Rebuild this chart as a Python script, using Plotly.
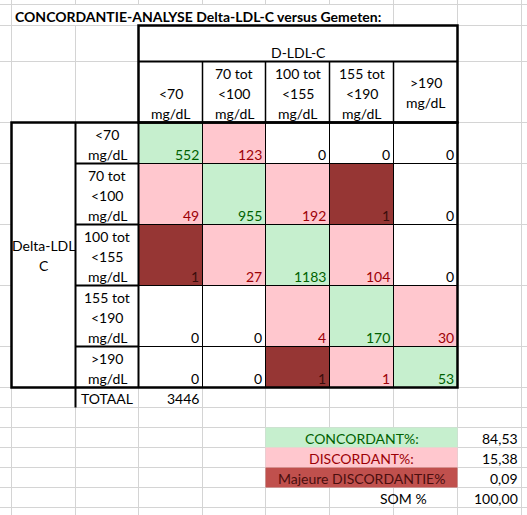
import plotly.graph_objects as go

# ---------------- data ----------------
title = "CONCORDANTIE-ANALYSE Delta-LDL-C versus Gemeten:"
col_group = "D-LDL-C"
row_group = ["Delta-LDL", "C"]
col_labels = [["<70", "mg/dL"], ["70 tot", "<100", "mg/dL"], ["100 tot", "<155", "mg/dL"],
              ["155 tot", "<190", "mg/dL"], [">190", "mg/dL"]]
row_labels = [["<70", "mg/dL"], ["70 tot", "<100", "mg/dL"], ["100 tot", "<155", "mg/dL"],
              ["155 tot", "<190", "mg/dL"], [">190", "mg/dL"]]
counts = [
    [552, 123, 0, 0, 0],
    [49, 955, 192, 1, 0],
    [1, 27, 1183, 104, 0],
    [0, 0, 4, 170, 30],
    [0, 0, 1, 1, 53],
]
total_label = "TOTAAL"
total_value = 3446
summary_labels = ["CONCORDANT%:", "DISCORDANT%:", "Majeure DISCORDANTIE%", "SOM %"]
summary_values = [84.53, 15.38, 0.09, 100.00]

# ---------------- layout / style constants ----------------
W, H = 527, 515
COLS = [11.5, 75.5, 138.5, 202.5, 265.5, 329.5, 393.5, 457.5, 521.5]
ROWS = [4.5, 25.5, 61.5, 122.5, 163.5, 224.5, 285.5, 346.5, 387.5, 407.5,
        427.5, 447.5, 467.5, 487.5, 507.5]
LINE_H = 20
FONT = "Lato"
FS = 14
GRID = "#D4D4D4"
GREEN_FILL, GREEN_TEXT = "#C6EFCE", "#006100"
PINK_FILL, PINK_TEXT = "#FFC7CE", "#9C0006"
DARK_FILL, DARK_TEXT = "#963634", "#3A0D0C"
MAJ_FILL, MAJ_TEXT = "#C0504D", "#4A0E0E"
THICK, MED, THIN = 2.5, 2, 1
HEADER_VALIGN = ["bottom", "bottom", "bottom", "bottom", "middle"]

shapes = []
annotations = []


def rect(x0, y0, x1, y1, fill, lw=0, lc="black"):
    shapes.append(dict(type="rect", xref="x", yref="y", x0=x0, y0=y0, x1=x1, y1=y1,
                       fillcolor=fill, line=dict(width=lw, color=lc), layer="above"))


def line(x0, y0, x1, y1, lw, color="black"):
    shapes.append(dict(type="line", xref="x", yref="y", x0=x0, y0=y0, x1=x1, y1=y1,
                       line=dict(width=lw, color=color), layer="above"))


def text(x, y, s, xanchor="center", color="black", size=FS, bold=False):
    annotations.append(dict(x=x, y=y, xref="x", yref="y", text=("<b>%s</b>" % s) if bold else s,
                            showarrow=False, xanchor=xanchor, yanchor="middle",
                            font=dict(family=FONT, size=size, color=color),
                            borderpad=0))


def lines_in_cell(x, y0, y1, parts, valign="bottom", xanchor="center", color="black"):
    n = len(parts)
    for k, p in enumerate(parts):
        if valign == "bottom":
            yc = y1 - 9.5 - (n - 1 - k) * LINE_H
        else:
            yc = (y0 + y1) / 2 + (k - (n - 1) / 2) * LINE_H
        text(x, yc, p, xanchor=xanchor, color=color)


# ---------------- spreadsheet gridlines ----------------
for x in COLS:
    line(x, 0, x, H, 1, GRID)
for y in ROWS:
    line(0, y, W, y, 1, GRID)

# hide gridlines under overflowing title text
rect(COLS[0] + 0.6, ROWS[0] + 0.6, 362, ROWS[1] - 0.6, "white")

# ---------------- header box ----------------
hx0, hx1 = COLS[2], COLS[7]
rect(hx0, ROWS[1], hx1, ROWS[3], "white")
text((hx0 + hx1) / 2, ROWS[2] - 9.5, col_group)
for j, lab in enumerate(col_labels):
    cx = (COLS[2 + j] + COLS[3 + j]) / 2
    lines_in_cell(cx, ROWS[2], ROWS[3], lab, valign=HEADER_VALIGN[j])

# ---------------- matrix box ----------------
rect(COLS[0], ROWS[3], COLS[7], ROWS[8], "white")
lines_in_cell((COLS[0] + COLS[1]) / 2, ROWS[3], ROWS[8], row_group, valign="middle")


def cell_class(i, j, v):
    d = abs(i - j)
    if d == 0:
        return GREEN_FILL, GREEN_TEXT
    if d == 1:
        return PINK_FILL, PINK_TEXT
    if v > 0:
        return DARK_FILL, DARK_TEXT
    return "white", "black"


for i, lab in enumerate(row_labels):
    y0, y1 = ROWS[3 + i], ROWS[4 + i]
    lines_in_cell((COLS[1] + COLS[2]) / 2, y0, y1, lab)
    for j, v in enumerate(counts[i]):
        x0, x1 = COLS[2 + j], COLS[3 + j]
        fill, tcol = cell_class(i, j, v)
        rect(x0, y0, x1, y1, fill)
        text(x1 - 2.5, y1 - 9.5, str(v), xanchor="right", color=tcol)

# thin inner matrix lines
for y in ROWS[4:8]:
    line(COLS[2], y, COLS[7], y, THIN)
for x in COLS[3:7]:
    line(x, ROWS[3], x, ROWS[8], THIN)
# row label separators
for y in ROWS[4:8]:
    line(COLS[1], y, COLS[2], y, MED)
line(COLS[2], ROWS[3], COLS[2], ROWS[8], MED)
line(COLS[1], ROWS[3], COLS[1], ROWS[9], MED)
rect(COLS[0], ROWS[3], COLS[7], ROWS[8], "rgba(0,0,0,0)", THICK)

# header lines
line(hx0, ROWS[2], hx1, ROWS[2], MED)
for x in COLS[3:7]:
    line(x, ROWS[2], x, ROWS[3], 1.5)
rect(hx0, ROWS[1], hx1, ROWS[3], "rgba(0,0,0,0)", THICK)

# ---------------- total ----------------
text((COLS[1] + COLS[2]) / 2, ROWS[9] - 9.5, total_label)
text(COLS[3] - 2.5, ROWS[9] - 9.5, str(total_value), xanchor="right")

# ---------------- summary ----------------
sum_fill = [(GREEN_FILL, GREEN_TEXT), (PINK_FILL, PINK_TEXT), (MAJ_FILL, MAJ_TEXT), (None, "black")]
for k, (lab, val) in enumerate(zip(summary_labels, summary_values)):
    y0, y1 = ROWS[10 + k], ROWS[11 + k]
    fill, tcol = sum_fill[k]
    if fill:
        rect(COLS[4], y0, COLS[7], y1, fill)
        text((COLS[4] + COLS[7]) / 2, y1 - 9.5, lab, color=tcol)
    else:
        text(428, y1 - 9.5, lab, xanchor="right", color=tcol)
    text(COLS[8] - 2.5, y1 - 9.5, ("%.2f" % val).replace(".", ","), xanchor="right")

# title
text(COLS[0] + 2.5, ROWS[1] - 9.5, title, xanchor="left", bold=True)

fig = go.Figure()
fig.add_trace(go.Scatter(x=[0], y=[0], mode="markers", marker=dict(opacity=0), hoverinfo="skip",
                         showlegend=False))
fig.update_layout(
    width=W, height=H, autosize=False,
    margin=dict(l=0, r=0, t=0, b=0),
    paper_bgcolor="white", plot_bgcolor="white",
    xaxis=dict(range=[0, W], visible=False, fixedrange=True),
    yaxis=dict(range=[H, 0], visible=False, fixedrange=True),
    shapes=shapes, annotations=annotations, showlegend=False,
)
fig.write_html("out.html", config={"displayModeBar": False},
               post_script="document.body.style.margin='0px';document.body.style.overflow='hidden';")
